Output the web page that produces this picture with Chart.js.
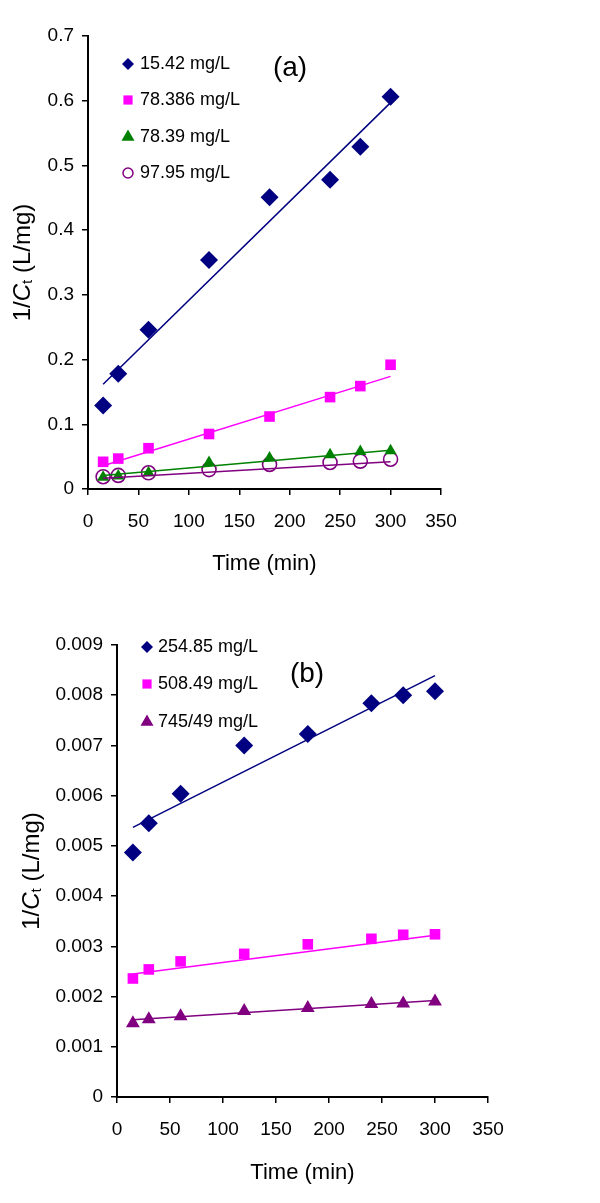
<!DOCTYPE html>
<html>
<head>
<meta charset="utf-8">
<script src="https://cdn.jsdelivr.net/npm/chart.js@4.4.1/dist/chart.umd.min.js"></script>
<style>
  body { margin: 0; background: #fff; }
  canvas { display: block; }
</style>
</head>
<body>
<canvas id="graficoA" width="600" height="600"></canvas>
<canvas id="graficoB" width="600" height="603"></canvas>
<script>
// tempos de contacto (min)
const tempo = [15, 30, 60, 120, 180, 240, 270, 300];
const tempoTendencia = [15, 300]; // extremos das rectas de tendência

const ticksX = [0, 50, 100, 150, 200, 250, 300, 350];
const ticksYA = [0, 0.1, 0.2, 0.3, 0.4, 0.5, 0.6, 0.7];
const ticksYB = [0, 0.001, 0.002, 0.003, 0.004, 0.005, 0.006, 0.007, 0.008, 0.009];

// (a)
const nomesA = ['15.42 mg/L', '78.386 mg/L', '78.39 mg/L', '97.95 mg/L'];
const serieA1 = [0.129, 0.178, 0.246, 0.354, 0.451, 0.478, 0.529, 0.606];
const serieA2 = [0.042, 0.047, 0.063, 0.085, 0.112, 0.142, 0.159, 0.192];
const serieA3 = [0.018, 0.020, 0.025, 0.041, 0.048, 0.053, 0.058, 0.059];
const serieA4 = [0.019, 0.021, 0.025, 0.030, 0.038, 0.041, 0.043, 0.046];
const tendA1 = [0.162, 0.597];
const tendA2 = [0.036, 0.174];
const tendA3 = [0.021, 0.060];
const tendA4 = [0.0165, 0.042];

// (b)
const nomesB = ['254.85 mg/L', '508.49 mg/L', '745/49 mg/L'];
const serieB1 = [0.00487, 0.00545, 0.00604, 0.00700, 0.00723, 0.00784, 0.00800, 0.00808];
const serieB2 = [0.00236, 0.00254, 0.00270, 0.00285, 0.00304, 0.00315, 0.00323, 0.00324];
const serieB3 = [0.00147, 0.00155, 0.00161, 0.00171, 0.00177, 0.00185, 0.00186, 0.00190];
const tendB1 = [0.00537, 0.00839];
const tendB2 = [0.00245, 0.00322];
const tendB3 = [0.00154, 0.00192];

const FONTE = '"Liberation Sans", Arial, sans-serif';

const pontos = (ys, xs = tempo) => xs.map((x, i) => ({ x: x, y: ys[i] }));

// desenha um marcador simples (usado na legenda)
function marcador(ctx, estilo, x, y, r, cor, vazio) {
    ctx.save();
    ctx.beginPath();
    if (estilo === 'rectRot') {
        ctx.moveTo(x, y - r); ctx.lineTo(x + r, y); ctx.lineTo(x, y + r); ctx.lineTo(x - r, y);
    } else if (estilo === 'rect') {
        const s = r * Math.SQRT1_2;
        ctx.rect(x - s, y - s, 2 * s, 2 * s);
    } else if (estilo === 'triangle') {
        ctx.moveTo(x, y - r);
        ctx.lineTo(x + r * 0.866, y + r * 0.5);
        ctx.lineTo(x - r * 0.866, y + r * 0.5);
    } else {
        ctx.arc(x, y, r, 0, Math.PI * 2);
    }
    ctx.closePath();
    if (vazio) {
        ctx.strokeStyle = cor; ctx.lineWidth = 1.5; ctx.stroke();
    } else {
        ctx.fillStyle = cor; ctx.fill();
    }
    ctx.restore();
}

// legenda, rótulo do painel e título do eixo y (com C itálico e t subscrito)
const anotacoes = {
    id: 'anotacoes',
    afterDraw(chart, args, opts) {
        const ctx = chart.ctx;
        const area = chart.chartArea;
        ctx.save();
        ctx.fillStyle = '#000';
        ctx.textBaseline = 'middle';

        // legenda
        ctx.font = '18px ' + FONTE;
        ctx.textAlign = 'left';
        chart.data.datasets.filter(d => !d.showLine).forEach((d, i) => {
            const y = opts.legendaY[i];
            marcador(ctx, d.pointStyle, opts.legendaX, y, opts.legendaR[i], d.borderColor, d.vazio);
            ctx.fillStyle = '#000';
            ctx.fillText(d.label, opts.textoX, y);
        });

        // (a) / (b)
        ctx.font = '28px ' + FONTE;
        ctx.textAlign = 'center';
        ctx.fillText(opts.painel, opts.painelX, opts.painelY);

        // título do eixo y
        const partes = [
            { t: '1/', f: '24px ' + FONTE, dy: 0 },
            { t: 'C', f: 'italic 24px ' + FONTE, dy: 0 },
            { t: 't', f: '15px ' + FONTE, dy: 5 },
            { t: ' (L/mg)', f: '24px ' + FONTE, dy: 0 }
        ];
        let largura = 0;
        partes.forEach(p => { ctx.font = p.f; p.w = ctx.measureText(p.t).width; largura += p.w; });
        ctx.translate(opts.tituloX, (area.top + area.bottom) / 2);
        ctx.rotate(-Math.PI / 2);
        ctx.textAlign = 'left';
        let px = -largura / 2;
        partes.forEach(p => { ctx.font = p.f; ctx.fillText(p.t, px, p.dy); px += p.w; });
        ctx.restore();
    }
};

function eixos(ticksY, largY, altX, padTitulo) {
    const fmt = v => String(Number(v.toFixed(4)));
    return {
        x: {
            type: 'linear', min: 0, max: 350,
            afterBuildTicks: s => { s.ticks = ticksX.map(v => ({ value: v })); },
            afterFit: s => { s.height = altX; },
            grid: { drawOnChartArea: false, drawTicks: true, tickLength: 6, color: '#000', lineWidth: 1.5 },
            border: { color: '#000', width: 2 },
            ticks: { color: '#000', font: { family: FONTE, size: 19 }, padding: 15, maxRotation: 0, autoSkip: false, callback: fmt },
            title: { display: true, text: 'Time (min)', color: '#000', font: { family: FONTE, size: 22 }, padding: { top: 0, bottom: padTitulo } }
        },
        y: {
            type: 'linear', min: 0, max: ticksY[ticksY.length - 1],
            afterBuildTicks: s => { s.ticks = ticksY.map(v => ({ value: v })); },
            afterFit: s => { s.width = largY; },
            grid: { drawOnChartArea: false, drawTicks: true, tickLength: 6, color: '#000', lineWidth: 1.5 },
            border: { color: '#000', width: 2 },
            ticks: { color: '#000', font: { family: FONTE, size: 19 }, padding: 8, autoSkip: false, callback: fmt }
        }
    };
}

function serie(nome, ys, cor, estilo, raio, vazio) {
    return {
        label: nome, data: pontos(ys), pointStyle: estilo, pointRadius: raio,
        backgroundColor: vazio ? 'rgba(0,0,0,0)' : cor, borderColor: cor,
        pointBorderWidth: vazio ? 1.6 : 0, vazio: vazio, order: 1
    };
}

function tendencia(ys, cor) {
    return {
        label: '', data: pontos(ys, tempoTendencia), showLine: true, pointRadius: 0,
        borderColor: cor, borderWidth: 1.5, order: 0
    };
}

const comuns = {
    responsive: false, animation: false, events: [], devicePixelRatio: 1,
    plugins: { legend: { display: false }, tooltip: { enabled: false } }
};

new Chart(document.getElementById('graficoA'), {
    type: 'scatter',
    data: {
        datasets: [
            serie(nomesA[0], serieA1, '#000080', 'rectRot', 9),
            serie(nomesA[1], serieA2, '#FF00FF', 'rect', 7.5),
            serie(nomesA[2], serieA3, '#008000', 'triangle', 7),
            serie(nomesA[3], serieA4, '#800080', 'circle', 7, true),
            tendencia(tendA1, '#000080'),
            tendencia(tendA2, '#FF00FF'),
            tendencia(tendA3, '#008000'),
            tendencia(tendA4, '#800080')
        ]
    },
    options: Object.assign({}, comuns, {
        layout: { padding: { left: 0, top: 36, right: 159, bottom: 0 } },
        scales: eixos(ticksYA, 88, 111, 23),
        plugins: Object.assign({}, comuns.plugins, {
            anotacoes: {
                legendaX: 128, textoX: 140, legendaY: [64, 100, 137, 173], legendaR: [6, 6.5, 7.5, 5],
                painel: '(a)', painelX: 290, painelY: 68, tituloX: 23
            }
        })
    }),
    plugins: [anotacoes]
});

new Chart(document.getElementById('graficoB'), {
    type: 'scatter',
    data: {
        datasets: [
            serie(nomesB[0], serieB1, '#000080', 'rectRot', 9),
            serie(nomesB[1], serieB2, '#FF00FF', 'rect', 7.5),
            serie(nomesB[2], serieB3, '#800080', 'triangle', 8),
            tendencia(tendB1, '#000080'),
            tendencia(tendB2, '#FF00FF'),
            tendencia(tendB3, '#800080')
        ]
    },
    options: Object.assign({}, comuns, {
        layout: { padding: { left: 0, top: 45, right: 112, bottom: 0 } },
        scales: eixos(ticksYB, 117, 106, 17),
        plugins: Object.assign({}, comuns.plugins, {
            anotacoes: {
                legendaX: 147, textoX: 158, legendaY: [47, 84, 122], legendaR: [6, 6.5, 7.5],
                painel: '(b)', painelX: 307, painelY: 74, tituloX: 32
            }
        })
    }),
    plugins: [anotacoes]
});
</script>
</body>
</html>
